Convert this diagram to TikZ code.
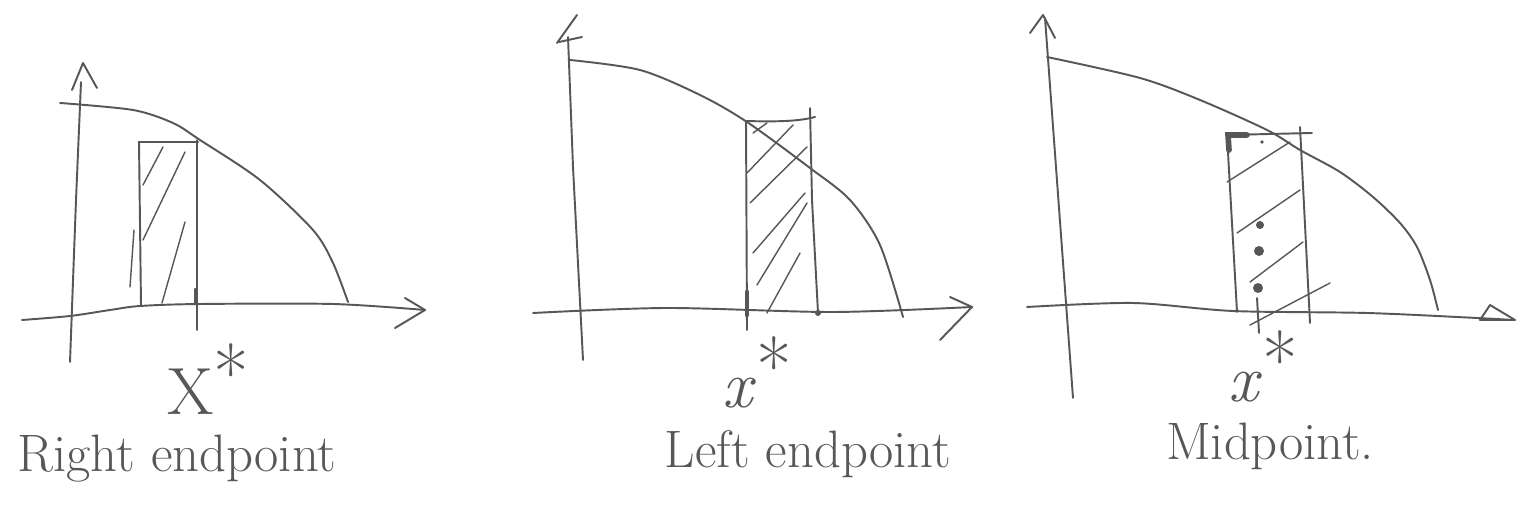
\documentclass[tikz,border=0pt]{standalone}
\usepackage{fontspec}
\usepackage{tikz}
\usetikzlibrary{arrows.meta}
\definecolor{Pencil}{HTML}{575757}
\newcommand{\bigstar}{\raisebox{0.2em}{\fontsize{44}{44}\selectfont *}}

\begin{document}
\begin{tikzpicture}[x=0.02cm,y=-0.02cm,
  pen/.style={Pencil,line width=1.1pt,line cap=round,line join=round},
  hatch/.style={Pencil,line width=0.8pt,line cap=round},
  tickmark/.style={Pencil,line width=2.6pt,line cap=round},
  caption/.style={Pencil,font=\fontsize{30}{32}\selectfont,anchor=base},
  starlbl/.style={Pencil,font=\fontsize{38}{40}\selectfont,anchor=base,inner sep=0pt}]
  \useasboundingbox[fill=white] (0,0) rectangle (1527,519);

  \draw[pen] (70,362) -- (76,200) -- (81,82);
  \draw[pen] (72,90) -- (83,63) -- (97,88);
  \draw[pen] plot[smooth] coordinates {(22,320)(70,316)(110,310)(140,306)(200,304)(333,304)(425,310)};
  \draw[pen] (405,298) -- (425,310) -- (395,328);
  \draw[pen] plot[smooth] coordinates {(60,103)(133,110)(173,123)(200,140)(260,180)(313,230)(333,263)(348,302)};
  \draw[pen] (141,305) -- (139,142);
  \draw[pen,line width=1.6pt] (139,142) -- (198,142);
  \draw[pen] (197,140) -- (197,330);
  \draw[hatch] (143,185) -- (163,147);
  \draw[hatch] (143,240) -- (185,152);
  \draw[hatch] (162,303) -- (185,222);
  \draw[hatch] (130,287) -- (134,230);
  \draw[tickmark] (196,290) -- (196,303);
  \node[starlbl] (xsR) at (208,415) {X\bigstar};
  \node[caption] (lblR) at (177,472) {Right endpoint};

  \draw[pen] (568,37) -- (573,167) -- (583,360);
  \draw[pen] (557,43) -- (577,15);
  \draw[pen] (559,42) -- (582,37);
  \draw[pen] plot[smooth] coordinates {(533,313)(667,308)(833,312)(972,307)};
  \draw[pen] (950,297) -- (972,307) -- (940,340);
  \draw[pen] plot[smooth] coordinates {(570,60)(640,70)(700,95)(747,122)(810,168)(850,200)(880,245)(903,317)};
  \draw[pen] (746,121) -- (747,330);
  \draw[pen] (746,121) .. controls (780,122) and (800,121) .. (815,117);
  \draw[pen] (810,108) -- (812,200) -- (818,313);
  \draw[hatch] (753,133) -- (767,123);
  \draw[hatch] (747,173) -- (793,125);
  \draw[hatch] (750,203) -- (807,147);
  \draw[hatch] (753,253) -- (805,193);
  \draw[hatch] (757,285) -- (807,203);
  \draw[hatch] (767,313) -- (800,253);
  \draw[tickmark] (747,292) -- (747,315);
  \fill[Pencil] (818,313) circle (3);
  \node[starlbl] (xsL) at (757,408) {\textit{x}\bigstar};
  \node[caption] (lblL) at (808,468) {Left endpoint};

  \draw[pen] (1045,18) -- (1073,398);
  \draw[pen] (1030,33) -- (1043,15) -- (1055,38);
  \draw[pen] plot[smooth] coordinates {(1027,307)(1133,303)(1233,311)(1367,313)(1477,318)(1513,320)};
  \draw[pen] (1480,320) -- (1490,305) -- (1515,320) -- cycle;
  \draw[pen] plot[smooth] coordinates {(1047,57)(1140,78)(1200,100)(1267,130)(1300,150)(1340,172)(1373,197)(1400,223)(1417,247)(1430,280)(1438,310)};
  \draw[pen] (1227,135) -- (1237,312);
  \draw[pen] (1227,135) -- (1312,133);
  \draw[pen] (1300,127) -- (1310,323);
  \draw[tickmark,line width=3.2pt] (1247,135) -- (1228,135) -- (1229,150);
  \draw[hatch] (1227,182) -- (1290,142);
  \draw[hatch] (1237,233) -- (1300,190);
  \draw[hatch] (1250,282) -- (1303,242);
  \draw[hatch] (1250,325) -- (1330,283);
  \fill[Pencil] (1262,142) circle (1.8);
  \fill[Pencil] (1260,225) circle (4);
  \fill[Pencil] (1259,251) circle (5);
  \fill[Pencil] (1258,288) circle (5);
  \draw[pen] (1257,298) -- (1259,333);
  \node[starlbl] (xsM) at (1263,402) {\textit{x}\bigstar};
  \node[caption] (lblM) at (1270,460) {Midpoint.};
\end{tikzpicture}
\end{document}
